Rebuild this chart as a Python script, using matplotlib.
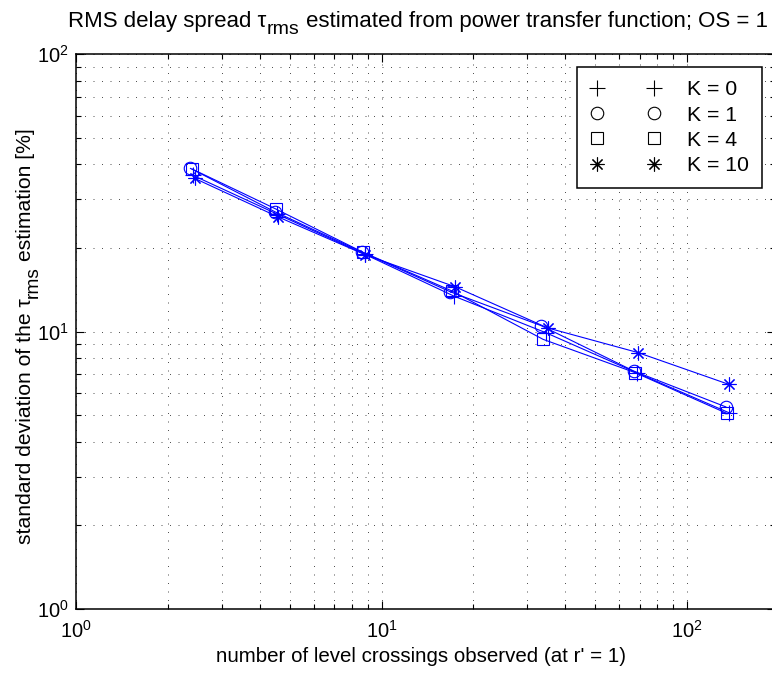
import matplotlib
matplotlib.use("Agg")
import matplotlib.pyplot as plt
from matplotlib.lines import Line2D
from matplotlib.ticker import LogLocator, NullFormatter

plt.rcParams['font.family'] = ['Liberation Sans', 'DejaVu Sans']
plt.rcParams['mathtext.fontset'] = 'custom'
plt.rcParams['mathtext.rm'] = 'Liberation Sans'
plt.rcParams['mathtext.it'] = 'Liberation Sans'
plt.rcParams['mathtext.default'] = 'regular'

# ---- data ----
labels = ['K = 0', 'K = 1', 'K = 4', 'K = 10']
markers = ['+', 'o', 's', (8, 2, 0)]

x_k0 = [2.42, 4.55, 8.8, 17.3, 34.5, 68.5, 137]
y_k0 = [36.5, 26.5, 19.0, 13.4, 9.9, 7.1, 5.1]

x_k1 = [2.37, 4.48, 8.65, 16.8, 33.3, 67.0, 134]
y_k1 = [38.7, 27.0, 19.3, 13.9, 10.5, 7.2, 5.35]

x_k4 = [2.40, 4.52, 8.7, 17.0, 33.8, 67.8, 135]
y_k4 = [38.5, 27.6, 19.3, 14.0, 9.37, 7.1, 5.07]

x_k10 = [2.45, 4.58, 8.85, 17.4, 35.0, 69.0, 137]
y_k10 = [35.6, 25.9, 18.9, 14.5, 10.3, 8.4, 6.45]

xs = [x_k0, x_k1, x_k4, x_k10]
ys = [y_k0, y_k1, y_k4, y_k10]

title_parts = ["RMS delay spread \u03c4", "rms", "estimated from power transfer function; OS = 1"]
ylabel_parts = ["standard deviation of the \u03c4", "rms", "estimation [%]"]
xlabel_text = "number of level crossings observed (at r' = 1)"

W, H = 772, 674
fig = plt.figure(figsize=(W / 100, H / 100), dpi=100)
left, right, top, bottom = 76, 775, 54, 609
ax = fig.add_axes([left / W, 1 - bottom / H, (right - left) / W, (bottom - top) / H])

msizes = [11, 9, 8, 10]
for x, y, m, ms in zip(xs, ys, markers, msizes):
    ax.plot(x, y, color='blue', lw=0.8, marker=m, ms=ms, mfc='none',
            mec='blue', mew=0.8)

ax.set_xscale('log')
ax.set_yscale('log')
ax.set_xlim(1, 10 ** ((right - left) / 305.5))
ax.set_ylim(1, 100)

ax.xaxis.set_major_locator(LogLocator(base=10, numticks=10))
ax.xaxis.set_minor_locator(LogLocator(base=10, subs=range(2, 10), numticks=20))
ax.yaxis.set_major_locator(LogLocator(base=10, numticks=10))
ax.yaxis.set_minor_locator(LogLocator(base=10, subs=range(2, 10), numticks=20))
ax.xaxis.set_minor_formatter(NullFormatter())
ax.yaxis.set_minor_formatter(NullFormatter())

grid_kw = dict(color='black', lw=0.6, linestyle=(0, (1.2, 9)), alpha=0.8)
ax.grid(True, which='major', **grid_kw)
ax.grid(True, which='minor', **grid_kw)
ax.set_axisbelow(True)

for s in ax.spines.values():
    s.set_linewidth(1.1)
ax.tick_params(which='both', direction='in', top=True, right=True,
               width=0.8, labelsize=14.5)
ax.tick_params(which='major', length=6)
ax.tick_params(axis='x', which='major', pad=8)
ax.tick_params(axis='y', which='major', pad=5)
ax.tick_params(which='minor', length=3.5)

ax.set_xlabel(xlabel_text, fontsize=14.8)
ax.xaxis.label.set_va('center')
ax.xaxis.set_label_coords((421 - left) / (right - left), -(656 - bottom) / (bottom - top))

renderer = fig.canvas.get_renderer()


def text_width(s, fs):
    t = fig.text(0, 0, s, fontsize=fs)
    w = t.get_window_extent(renderer).width
    t.remove()
    return w


def compose_horizontal(parts, sizes, drops, center_x, base_y):
    space = text_width("a a", sizes[0]) - text_width("aa", sizes[0])
    widths = [text_width(p, f) for p, f in zip(parts, sizes)]
    total = sum(widths) + space
    x = center_x - total / 2
    for i, (p, f, d) in enumerate(zip(parts, sizes, drops)):
        fig.text(x / W, 1 - (base_y + d) / H, p, fontsize=f,
                 ha='left', va='baseline')
        x += widths[i]
        if i == 1:
            x += space


def compose_vertical(parts, sizes, drops, center_from_top, base_x):
    space = text_width("a a", sizes[0]) - text_width("aa", sizes[0])
    widths = [text_width(p, f) for p, f in zip(parts, sizes)]
    total = sum(widths) + space
    y = center_from_top + total / 2
    for i, (p, f, d) in enumerate(zip(parts, sizes, drops)):
        fig.text((base_x + d) / W, 1 - y / H, p, fontsize=f, rotation=90,
                 rotation_mode='anchor', ha='left', va='baseline')
        y -= widths[i]
        if i == 1:
            y -= space


compose_horizontal(title_parts, [16, 14, 16], [0, 7, 0], 418, 27)
compose_vertical(ylabel_parts, [15.2, 13.8, 15.2], [0, 7, 0], 336, 31)

handles = [Line2D([], [], linestyle='none', marker=m, ms=ms, mfc='none',
                  mec='black', mew=0.8, color='black')
           for m, ms in zip(markers, msizes)]
leg = ax.legend(handles, labels, loc='upper right', numpoints=2,
                bbox_to_anchor=(762 / W, 1 - 67 / H), bbox_transform=fig.transFigure,
                fontsize=15.3, handlelength=3.3, handletextpad=1.25,
                borderpad=0.62, labelspacing=0.3, borderaxespad=0,
                fancybox=False, framealpha=1, edgecolor='black')
leg.get_frame().set_linewidth(1.1)

fig.savefig('out.png', dpi=100)
